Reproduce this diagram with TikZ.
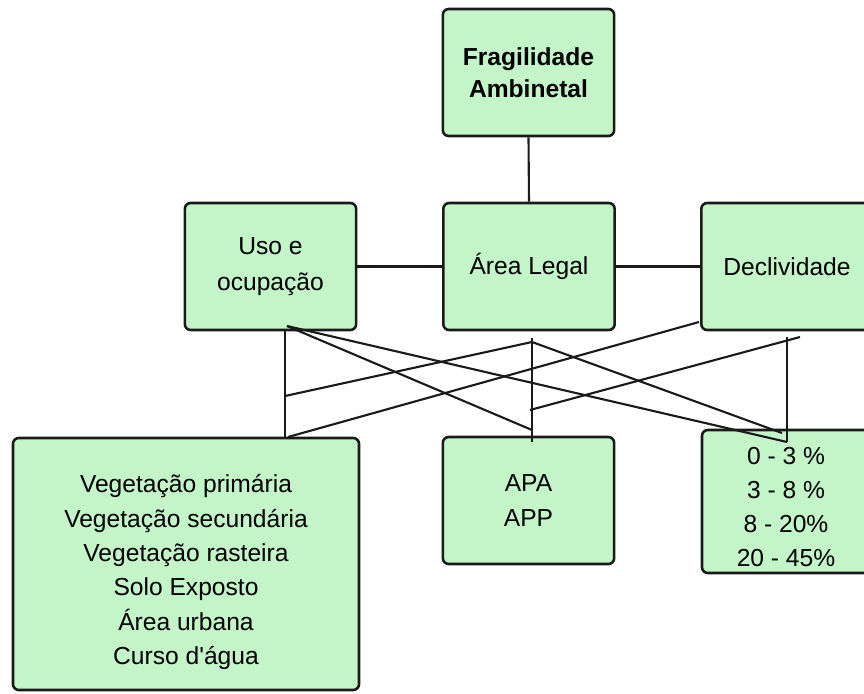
\documentclass[tikz,border=0pt]{standalone}
\usepackage{fontspec}
\setmainfont{Liberation Sans}
\usepackage{tikz}
\usetikzlibrary{positioning}
\usepackage{xcolor}
\definecolor{boxfill}{HTML}{C3F5C8}
\definecolor{boxline}{HTML}{1A1A1A}

\begin{document}
\begin{tikzpicture}[x=0.03cm, y=-0.03cm]
      \tikzstyle{box}=[draw=boxline, fill=boxfill, line width=2.2pt, rounded corners=5pt, rectangle, align=center, inner sep=0pt, font={\fontsize{21}{29.5}\selectfont}]
      \tikzstyle{theme}=[box, minimum width=5.14cm, minimum height=3.81cm]
      \tikzstyle{list}=[align=center, inner sep=0pt, font={\fontsize{21}{29.3}\selectfont}]
      \tikzstyle{link}=[draw=boxline, line width=1.8pt]

      \useasboundingbox (0,0) rectangle (864,693);

      \node[theme, font={\fontsize{21}{27}\selectfont\bfseries}] (frag) at (528.5, 72.5) {Fragilidade\\Ambinetal};
      \node[theme, font={\fontsize{21}{30.5}\selectfont}] (uso) at (270.5, 266.5) {Uso e\\ocupação};
      \node[theme] (legal) at (529, 266.5) {Área Legal};
      \node[theme] (decliv) at (787, 266.5) {Declividade};

      \node[box, minimum width=10.38cm, minimum height=7.56cm] (usoclasses) at (186, 564) {};
      \node[list] (usolist) at ([yshift=-7pt]usoclasses.center) {Vegetação primária\\Vegetação secundária\\Vegetação rasteira\\Solo Exposto\\Área urbana\\Curso d\textquotesingle água};
      \node[theme] (legalclasses) at (528.5, 500.5) {APA\\APP};
      \node[box, minimum width=5.04cm, minimum height=4.29cm] (declclasses) at (786, 501.5) {};
      \node[list, font={\fontsize{21}{29}\selectfont}] (decllist) at ([yshift=-5pt]declclasses.center) {0 - 3 \%\\3 - 8 \%\\8 - 20\%\\20 - 45\%};

      % main links
      \draw[link] (frag.south) -- (legal.north);
      \draw[link] (uso.east) -- (legal.west);
      \draw[link] (legal.east) -- (decliv.west);

      % crossing points
      \coordinate (ua) at (287, 326);
      \coordinate (ub) at (285, 396);
      \coordinate (uc) at (288, 437);
      \coordinate (ltop) at (532, 338);
      \coordinate (la) at (532, 342);
      \coordinate (lb) at (530, 410);
      \coordinate (lc) at (532, 430);
      \coordinate (lbot) at (532, 442);
      \coordinate (da) at (699, 322);
      \coordinate (dtop) at (787, 337);
      \coordinate (db) at (800, 337);
      \coordinate (dc) at (782, 433);
      \coordinate (dd) at (787, 442);

      % vertical lines
      \draw[link] (uso.south -| ub) -- (usoclasses.north -| ub);
      \draw[link] (ltop) -- (lbot);
      \draw[link] (dtop) -- (dd);

      % crossing lines
      \draw[link] (ua) -- (lc);
      \draw[link] (ua) -- (dd);
      \draw[link] (la) -- (ub);
      \draw[link] (la) -- (dc);
      \draw[link] (uc) -- (da);
      \draw[link] (lb) -- (db);
\end{tikzpicture}
\end{document}
